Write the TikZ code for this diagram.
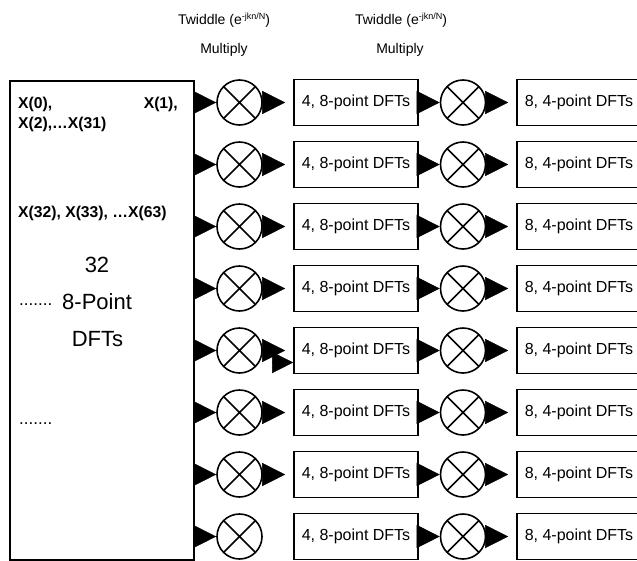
\documentclass[tikz,border=0pt]{standalone}
\usepackage{fontspec}
\setmainfont{Liberation Sans}
\usetikzlibrary{arrows.meta,calc}
\begin{document}
\begin{tikzpicture}[x=1pt,y=-1pt,
  lw/.style={line width=1.6pt},
  blk/.style={draw,lw,minimum width=124pt,minimum height=46pt,inner sep=0pt,
    font=\fontsize{16}{18}\selectfont},
  mult/.style={draw,circle,lw,minimum size=45pt,inner sep=0pt,
    path picture={\draw[lw]
      (path picture bounding box.north west)--(path picture bounding box.south east)
      (path picture bounding box.north east)--(path picture bounding box.south west);}},
  tri/.style={-{Triangle[length=23pt,width=23pt]},line width=0.4pt},
  hdr/.style={font=\fontsize{14}{16}\selectfont,inner sep=0pt},
  lbl/.style={font=\fontsize{15.7}{17}\selectfont\bfseries,inner sep=0pt},
  big/.style={font=\fontsize{22}{24}\selectfont,inner sep=0pt},
  dots/.style={font=\fontsize{17}{19}\selectfont,inner sep=0pt},
]
\useasboundingbox (0,0) rectangle (637,560);
\clip (0,0) rectangle (637,560);

% column headings
\node[hdr] (tw1) at (224,20) {Twiddle (e\raisebox{5pt}{\fontsize{9}{9}\selectfont -jkn/N})};
\node[hdr] (mu1) at (224,50) {Multiply};
\node[hdr] (tw2) at (401,20) {Twiddle (e\raisebox{5pt}{\fontsize{9}{9}\selectfont -jkn/N})};
\node[hdr] (mu2) at (400,50) {Multiply};

% first stage: 32 eight-point DFTs
\node[draw,lw,minimum width=184pt,minimum height=479pt,inner sep=0pt,anchor=north west]
  (big) at (9,80) {};
\node[lbl,anchor=base west] (x0) at (18,108) {X(0),};
\node[lbl,anchor=base east] (x1) at (178,108) {X(1),};
\node[lbl,anchor=base west] (x2) at (18,128) {X(2),\ldots X(31)};
\node[lbl,anchor=base west] (x32) at (18,217) {X(32), X(33), \ldots X(63)};
\node[big,anchor=base] (n32) at (97,272.7) {32};
\node[dots,anchor=base west] (d1) at (19,305) {.......};
\node[big,anchor=base west] (pt) at (62,309) {8-Point};
\node[big,anchor=base] (dft) at (97.5,346) {DFTs};
\node[dots,anchor=base west] (d2) at (19,424) {.......};

% twiddle multipliers and the later DFT stages, one row each
\foreach \i in {1,...,8}{
  \pgfmathsetmacro{\yy}{102.5+62*(\i-1)}
  \node[mult] (m\i) at (239.5,\yy) {};
  \node[blk]  (b\i) at (356,\yy) {4, 8-point DFTs};
  \node[mult] (n\i) at (463,\yy) {};
  \node[blk]  (c\i) at (579,\yy) {8, 4-point DFTs};
  \draw[tri] (big.east |- m\i) -- (m\i.west);
  \draw[tri] (b\i.east) -- (n\i.west);
  \draw[tri,shorten >=8pt] (n\i.east) -- (c\i.west);
}
\foreach \i in {1,...,7}{
  \draw[tri,shorten >=8pt] (m\i.east) -- (b\i.west);
}

% extra arrowhead in row five
\coordinate (e5) at ($(b5.west)+(-21,12)$);
\draw[-{Triangle[length=21pt,width=21pt]},line width=0.4pt] (e5) -- (b5.west |- e5);
\end{tikzpicture}
\end{document}
